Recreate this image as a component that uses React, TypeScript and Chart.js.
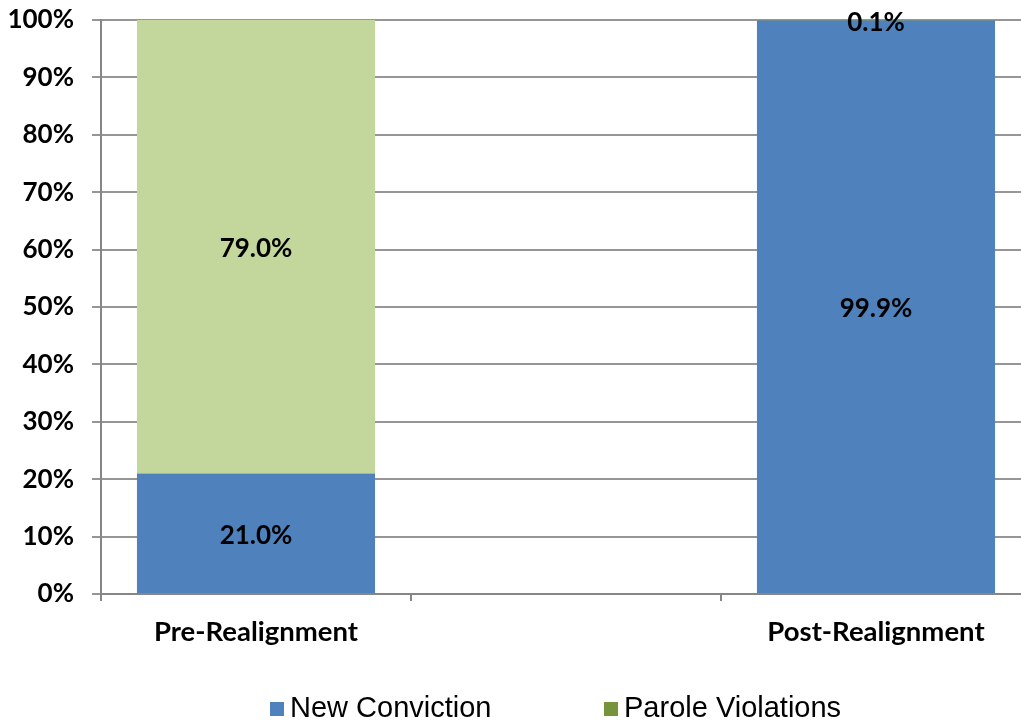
import React, { useEffect, useRef } from "react";
import { Chart, registerables } from "chart.js";

Chart.register(...registerables);

const categories = ["Pre-Realignment", "", "Post-Realignment"];
const seriesNames = ["New Conviction", "Parole Violations"];
const newConviction: (number | null)[] = [21.0, null, 99.9];
const paroleViolations: (number | null)[] = [79.0, null, 0.1];
const yTickStep = 10;
const yMax = 100;

const BLUE = "#4F81BD";
const LIGHT_GREEN = "#C3D69B";
const OLIVE = "#77933C";
const GRID = "#969696";
const AXIS = "#868686";
const LABEL_FONT = "Lato, 'Open Sans', sans-serif";

const dataLabelPlugin = {
  id: "dataLabels",
  afterDatasetsDraw(chart: any) {
    const ctx = chart.ctx;
    ctx.save();
    ctx.font = `bold 26px ${LABEL_FONT}`;
    ctx.fillStyle = "#000";
    ctx.textAlign = "center";
    ctx.textBaseline = "middle";
    chart.data.datasets.forEach((ds: any, di: number) => {
      const meta = chart.getDatasetMeta(di);
      meta.data.forEach((el: any, i: number) => {
        const v = ds.data[i];
        if (v == null) return;
        const cy = (el.y + el.base) / 2;
        ctx.fillText(`${v.toFixed(1)}%`, el.x, cy + 2);
      });
    });
    ctx.restore();
  },
};

const legendPlugin = {
  id: "customLegend",
  afterDraw(chart: any) {
    const ctx = chart.ctx;
    const items = [
      { text: seriesNames[0], color: BLUE, x: 270 },
      { text: seriesNames[1], color: OLIVE, x: 604 },
    ];
    ctx.save();
    ctx.font = `29px 'Liberation Sans', Arial, sans-serif`;
    ctx.textBaseline = "middle";
    ctx.textAlign = "left";
    items.forEach((it) => {
      ctx.fillStyle = it.color;
      ctx.fillRect(it.x, 702, 14, 14);
      ctx.fillStyle = "#000";
      ctx.fillText(it.text, it.x + 20, 709);
    });
    ctx.restore();
  },
};

export default function App() {
  const ref = useRef<HTMLCanvasElement | null>(null);

  useEffect(() => {
    if (!ref.current) return;
    const chart = new Chart(ref.current, {
      type: "bar",
      data: {
        labels: categories,
        datasets: [
          {
            label: seriesNames[0],
            data: newConviction,
            backgroundColor: BLUE,
            borderWidth: 0,
            barPercentage: 0.768,
            categoryPercentage: 1,
          },
          {
            label: seriesNames[1],
            data: paroleViolations,
            backgroundColor: [LIGHT_GREEN, LIGHT_GREEN, OLIVE],
            borderWidth: 0,
            barPercentage: 0.768,
            categoryPercentage: 1,
          },
        ],
      },
      options: {
        responsive: false,
        animation: false,
        devicePixelRatio: 1,
        layout: { padding: { top: 20, left: 0, right: 0, bottom: 69 } },
        plugins: {
          legend: { display: false },
          tooltip: { enabled: false },
        },
        scales: {
          x: {
            stacked: true,
            offset: true,
            grid: {
              display: true,
              drawOnChartArea: false,
              drawTicks: true,
              tickLength: 7,
              offset: true,
              color: AXIS,
              lineWidth: 2,
            },
            border: { display: true, color: AXIS, width: 2 },
            ticks: {
              padding: 15,
              color: "#000",
              font: { family: LABEL_FONT, size: 27.5, weight: "bold" },
              maxRotation: 0,
              autoSkip: false,
            },
            afterFit: (s: any) => {
              s.height = 60;
              s.paddingLeft = 0;
              s.paddingRight = 0;
            },
          },
          y: {
            stacked: true,
            min: 0,
            max: yMax,
            grid: {
              display: true,
              drawTicks: true,
              tickLength: 9,
              color: GRID,
              lineWidth: 2,
            },
            border: { display: true, color: AXIS, width: 2 },
            ticks: {
              stepSize: yTickStep,
              padding: 18,
              color: "#000",
              font: { family: LABEL_FONT, size: 26, weight: "bold" },
              callback: (v: any) => `${v}%`,
            },
            afterFit: (s: any) => {
              s.width = 101;
              s.paddingTop = 0;
              s.paddingBottom = 0;
            },
          },
        },
      },
      plugins: [dataLabelPlugin, legendPlugin],
    });
    return () => chart.destroy();
  }, []);

  return (
    <div
      style={{
        position: "absolute",
        left: 0,
        top: 0,
        width: 1021,
        height: 723,
        overflow: "hidden",
        background: "#fff",
      }}
    >
      <canvas ref={ref} width={1031} height={723} style={{ display: "block" }} />
    </div>
  );
}
